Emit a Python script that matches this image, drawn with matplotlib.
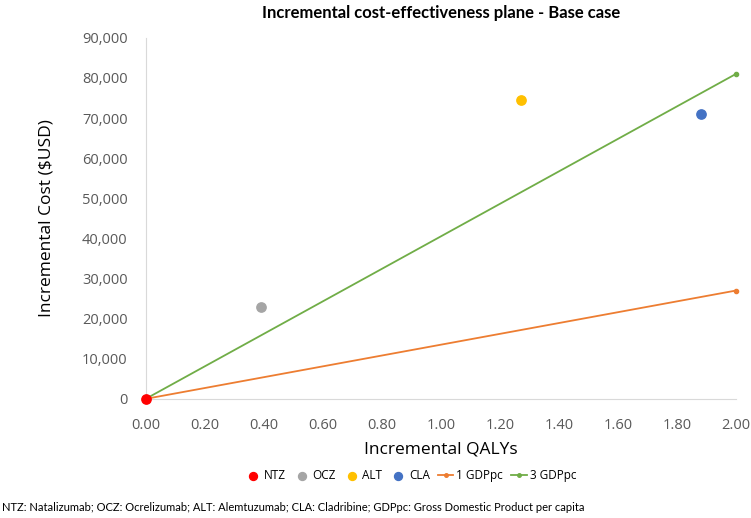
import matplotlib.pyplot as plt
from matplotlib.ticker import FuncFormatter

plt.rcParams['font.family'] = ['Open Sans', 'DejaVu Sans']

# Treatments (incremental QALYs, incremental cost)
drugs = ["NTZ", "OCZ", "ALT", "CLA"]
qalys = [0.0, 0.39, 1.27, 1.88]
costs = [0, 22800, 74500, 71000]
drug_colors = ["#ff0000", "#a5a5a5", "#ffc000", "#4472c4"]

# Willingness-to-pay thresholds
wtp_x = [0.0, 2.0]
gdp1_y = [0, 27000]
gdp3_y = [0, 81000]

fig = plt.figure(figsize=(7.51, 5.18), dpi=100)
ax = fig.add_axes([0.194, 0.23, 0.786, 0.697])

ax.plot(wtp_x, gdp1_y, color="#ed7d31", lw=1.3, marker="o", ms=3,
        label="1 GDPpc", clip_on=False, zorder=2)
ax.plot(wtp_x, gdp3_y, color="#70ad47", lw=1.3, marker="o", ms=3,
        label="3 GDPpc", clip_on=False, zorder=2)
for name, x, y, c in zip(drugs, qalys, costs, drug_colors):
    ax.scatter(x, y, s=45, color=c, label=name, zorder=3, clip_on=False)

ax.set_xlim(0, 2.0)
ax.set_ylim(0, 90000)
ax.set_xticks([i * 0.2 for i in range(11)])
ax.set_yticks(range(0, 90001, 10000))
ax.xaxis.set_major_formatter(FuncFormatter(lambda v, p: f"{v:.2f}"))
ax.yaxis.set_major_formatter(FuncFormatter(lambda v, p: f"{int(v):,}"))
ax.tick_params(length=0, labelsize=10.5, colors="#595959")
ax.tick_params(axis="x", pad=14)
ax.tick_params(axis="y", pad=13)
for s in ["top", "right"]:
    ax.spines[s].set_visible(False)
for s in ["left", "bottom"]:
    ax.spines[s].set_color("#d9d9d9")
ax.set_xlabel("Incremental QALYs", fontsize=12.5, labelpad=6)
ax.set_ylabel("Incremental Cost ($USD)", fontsize=12.5, labelpad=20)
ax.set_title("Incremental cost-effectiveness plane - Base case",
             fontsize=12, fontweight="bold", pad=14, family=["Lato", "DejaVu Sans"])

# legend order as in reference: drugs first, then thresholds
handles, labels = ax.get_legend_handles_labels()
order = [2, 3, 4, 5, 0, 1]
ax.legend([handles[i] for i in order], [labels[i] for i in order],
          loc="upper center", bbox_to_anchor=(0.449, -0.165), ncol=6,
          frameon=False, fontsize=8.5, handlelength=1.3, handletextpad=0.25,
          columnspacing=0.7, markerscale=0.85)

fig.text(0.003, 0.013,
         "NTZ: Natalizumab; OCZ: Ocrelizumab; ALT: Alemtuzumab; CLA: Cladribine; "
         "GDPpc: Gross Domestic Product per capita", fontsize=8,
         family=["Lato", "DejaVu Sans"])

fig.savefig("out.png", dpi=100)
